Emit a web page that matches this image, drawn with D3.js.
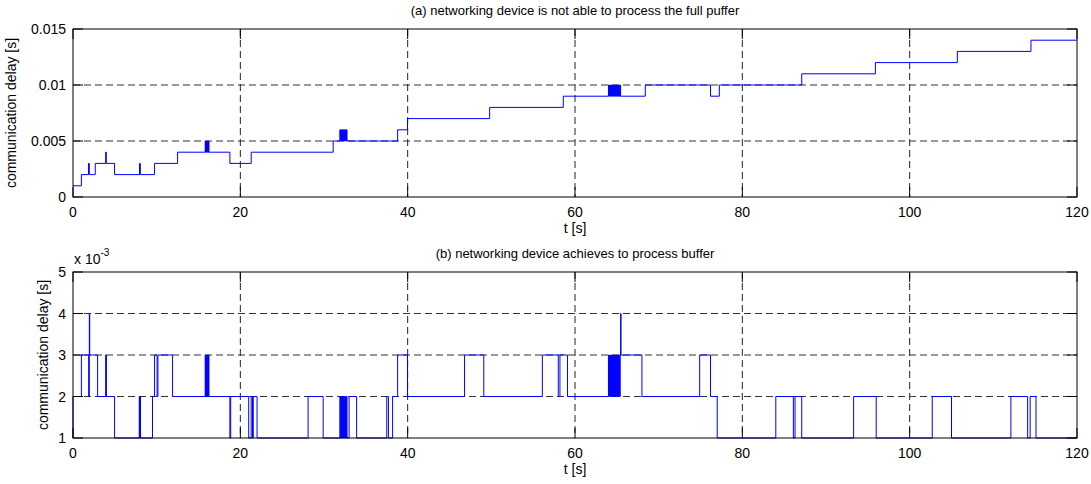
<!DOCTYPE html>
<html><head><meta charset="utf-8">
<script src="https://cdn.jsdelivr.net/npm/d3@7"></script>
<style>body{margin:0;background:#fff} text{font-family:"Liberation Sans",Arial,sans-serif;fill:#000}</style>
</head><body><svg id="c" width="1091" height="484"></svg>
<script>
// ---- data ----
const xTicks = [0, 20, 40, 60, 80, 100, 120];
const xTickLabels = ["0", "20", "40", "60", "80", "100", "120"];
const topYTicks = [0, 0.005, 0.01, 0.015];
const topYTickLabels = ["0", "0.005", "0.01", "0.015"];
const botYTicks = [0.001, 0.002, 0.003, 0.004, 0.005];
const botYTickLabels = ["1", "2", "3", "4", "5"];
const botExponent = "-3";
const topTitle = "(a) networking device is not able to process the full puffer";
const botTitle = "(b) networking device achieves to process buffer";
const xLabel = "t [s]";
const yLabel = "communication delay [s]";

// panel (a): step times [s] and delays [s]
const topT = [0, 1.0, 1.85, 1.95, 2.66, 3.9, 3.98, 4.97, 7.95, 8.05, 9.75, 12.5,
  15.8, 15.85, 15.9, 15.95, 16.0, 16.05, 16.1, 16.15, 16.2, 16.25,
  18.75, 21.3, 31.1,
  31.9, 31.95, 32.0, 32.05, 32.1, 32.15, 32.2, 32.25, 32.3, 32.35, 32.4, 32.45, 32.5, 32.55, 32.6, 32.65, 32.7, 32.75,
  38.8, 39.98, 49.8, 58.6,
  64.0, 64.05, 64.1, 64.15, 64.2, 64.25, 64.3, 64.35, 64.4, 64.45, 64.5, 64.55, 64.6, 64.65, 64.7,
  64.75, 64.8, 64.85, 64.9, 64.95, 65.0, 65.05, 65.1, 65.15, 65.2, 65.25, 65.3, 65.35, 65.4, 65.45,
  68.4, 76.2, 77.25, 87.1, 95.9, 105.7, 114.5, 120];
const topV = [0.001, 0.002, 0.003, 0.002, 0.003, 0.004, 0.003, 0.002, 0.003, 0.002, 0.003, 0.004,
  0.005, 0.004, 0.005, 0.004, 0.005, 0.004, 0.005, 0.004, 0.005, 0.004,
  0.003, 0.004, 0.005,
  0.006, 0.005, 0.006, 0.005, 0.006, 0.005, 0.006, 0.005, 0.006, 0.005, 0.006, 0.005, 0.006, 0.005, 0.006, 0.005, 0.006, 0.005,
  0.006, 0.007, 0.008, 0.009,
  0.010, 0.009, 0.010, 0.009, 0.010, 0.009, 0.010, 0.009, 0.010, 0.009, 0.010, 0.009, 0.010, 0.009, 0.010,
  0.009, 0.010, 0.009, 0.010, 0.009, 0.010, 0.009, 0.010, 0.009, 0.010, 0.009, 0.010, 0.009, 0.010, 0.009,
  0.010, 0.009, 0.010, 0.011, 0.012, 0.013, 0.014, 0.014];

// panel (b): step times [s] and delays [s]
const botT = [0, 0, 1.0, 1.87, 1.95, 2.0, 2.94, 3.9, 4.0, 4.97,
  7.92, 7.97, 8.02, 8.07, 8.12, 9.5, 9.75, 10.05, 10.15, 11.9,
  15.8, 15.85, 15.9, 15.95, 16.0, 16.05, 16.1, 16.15, 16.2, 16.25,
  18.75, 18.85, 21.0, 21.3, 21.45, 21.55, 22.0,
  28.1, 29.9,
  31.9, 31.95, 32.0, 32.05, 32.1, 32.15, 32.2, 32.25, 32.3, 32.35, 32.4, 32.45, 32.5, 32.55, 32.6, 32.65, 32.7, 32.75,
  33.0, 33.9, 37.5, 37.7, 38.2, 38.8, 39.98, 46.8, 49.1, 56.1, 58.0, 58.2, 59.1,
  64.0, 64.05, 64.1, 64.15, 64.2, 64.25, 64.3, 64.35, 64.4, 64.45, 64.5, 64.55, 64.6, 64.65, 64.7,
  64.75, 64.8, 64.85, 64.9, 64.95, 65.0, 65.05, 65.1, 65.15, 65.2, 65.25, 65.3, 65.35, 65.4,
  65.45, 65.5, 68.0, 74.9, 76.2, 77.0, 84.0, 86.1, 86.3, 87.1, 93.3, 96.0,
  102.7, 105.0, 112.1, 114.1, 114.4, 115.1, 120];
const botV = [0.001, 0.002, 0.003, 0.002, 0.004, 0.003, 0.002, 0.003, 0.002, 0.001,
  0.002, 0.001, 0.002, 0.001, 0.001, 0.002, 0.003, 0.002, 0.003, 0.002,
  0.003, 0.002, 0.003, 0.002, 0.003, 0.002, 0.003, 0.002, 0.003, 0.002,
  0.001, 0.002, 0.001, 0.002, 0.001, 0.002, 0.001,
  0.002, 0.001,
  0.002, 0.001, 0.002, 0.001, 0.002, 0.001, 0.002, 0.001, 0.002, 0.001, 0.002, 0.001, 0.002, 0.001, 0.002, 0.001, 0.002, 0.001,
  0.002, 0.001, 0.002, 0.001, 0.002, 0.003, 0.002, 0.003, 0.002, 0.003, 0.002, 0.003, 0.002,
  0.003, 0.002, 0.003, 0.002, 0.003, 0.002, 0.003, 0.002, 0.003, 0.002, 0.003, 0.002, 0.003, 0.002, 0.003,
  0.002, 0.003, 0.002, 0.003, 0.002, 0.003, 0.002, 0.003, 0.002, 0.003, 0.002, 0.003, 0.002, 0.003,
  0.004, 0.003, 0.002, 0.003, 0.002, 0.001, 0.002, 0.001, 0.002, 0.001, 0.002, 0.001,
  0.002, 0.001, 0.002, 0.001, 0.002, 0.001, 0.001];

// ---- drawing ----
const svg = d3.select("#c");
const FS = 14;

function panel(cfg) {
  const x = d3.scaleLinear().domain([0, 120]).range([73, 1077]);
  const y = d3.scaleLinear().domain(cfg.yDomain).range([cfg.bottom, cfg.top]);
  const g = svg.append("g");
  const L = 73, R = 1077, T = cfg.top, B = cfg.bottom;
  const dash = "7,4";
  // grid
  g.selectAll(".vg").data(xTicks.slice(1, -1)).join("line")
    .attr("x1", d => x(d)).attr("x2", d => x(d)).attr("y1", T).attr("y2", B)
    .attr("stroke", "#222").attr("stroke-dasharray", dash).attr("stroke-width", 1);
  g.selectAll(".hg").data(cfg.yTicks.slice(1, -1)).join("line")
    .attr("x1", L).attr("x2", R).attr("y1", d => y(d)).attr("y2", d => y(d))
    .attr("stroke", "#333").attr("stroke-dasharray", dash).attr("stroke-width", 1);
  // data
  const pts = cfg.T.map((t, i) => [t, cfg.V[i]]);
  const line = d3.line().x(d => x(d[0])).y(d => y(d[1])).curve(d3.curveStepAfter);
  g.append("path").attr("d", line(pts)).attr("fill", "none")
    .attr("stroke", "#0000ff").attr("stroke-width", 1);
  // box
  g.append("rect").attr("x", L).attr("y", T).attr("width", R - L).attr("height", B - T)
    .attr("fill", "none").attr("stroke", "#000").attr("stroke-width", 1);
  // ticks (inward, all sides)
  const tl = 10;
  xTicks.forEach(d => {
    g.append("line").attr("x1", x(d)).attr("x2", x(d)).attr("y1", B).attr("y2", B - tl).attr("stroke", "#000");
    g.append("line").attr("x1", x(d)).attr("x2", x(d)).attr("y1", T).attr("y2", T + tl).attr("stroke", "#000");
  });
  cfg.yTicks.forEach(d => {
    g.append("line").attr("x1", L).attr("x2", L + tl).attr("y1", y(d)).attr("y2", y(d)).attr("stroke", "#000");
    g.append("line").attr("x1", R).attr("x2", R - tl).attr("y1", y(d)).attr("y2", y(d)).attr("stroke", "#000");
  });
  // tick labels
  g.selectAll(".xl").data(xTicks).join("text")
    .attr("x", d => x(d)).attr("y", B + 20).attr("text-anchor", "middle")
    .attr("font-size", FS).text((d, i) => xTickLabels[i]);
  g.selectAll(".yl").data(cfg.yTicks).join("text")
    .attr("x", 66).attr("y", d => y(d) + 5).attr("text-anchor", "end")
    .attr("font-size", FS).text((d, i) => cfg.yLabels[i]);
  // axis labels
  g.append("text").attr("x", x(60)).attr("y", B + 36).attr("text-anchor", "middle")
    .attr("font-size", FS).text(xLabel);
  g.append("text").attr("transform", `translate(${cfg.ylx},${(T + B) / 2}) rotate(-90)`)
    .attr("text-anchor", "middle").attr("font-size", FS).text(yLabel);
  // title
  g.append("text").attr("x", x(60)).attr("y", cfg.titleY).attr("text-anchor", "middle")
    .attr("font-size", FS - 1).text(cfg.title);
  if (cfg.exponent) {
    const e = g.append("text").attr("x", 74).attr("y", T - 8).attr("font-size", FS);
    e.append("tspan").text("x 10");
    e.append("tspan").attr("dy", -8).attr("font-size", 10).text(cfg.exponent);
  }
}

panel({top: 29, bottom: 197, yDomain: [0, 0.015], yTicks: topYTicks, yLabels: topYTickLabels,
  T: topT, V: topV, title: topTitle, titleY: 15, ylx: 16});
panel({top: 272, bottom: 438, yDomain: [0.001, 0.005], yTicks: botYTicks, yLabels: botYTickLabels,
  T: botT, V: botV, title: botTitle, titleY: 258, ylx: 48, exponent: botExponent});
</script></body></html>
